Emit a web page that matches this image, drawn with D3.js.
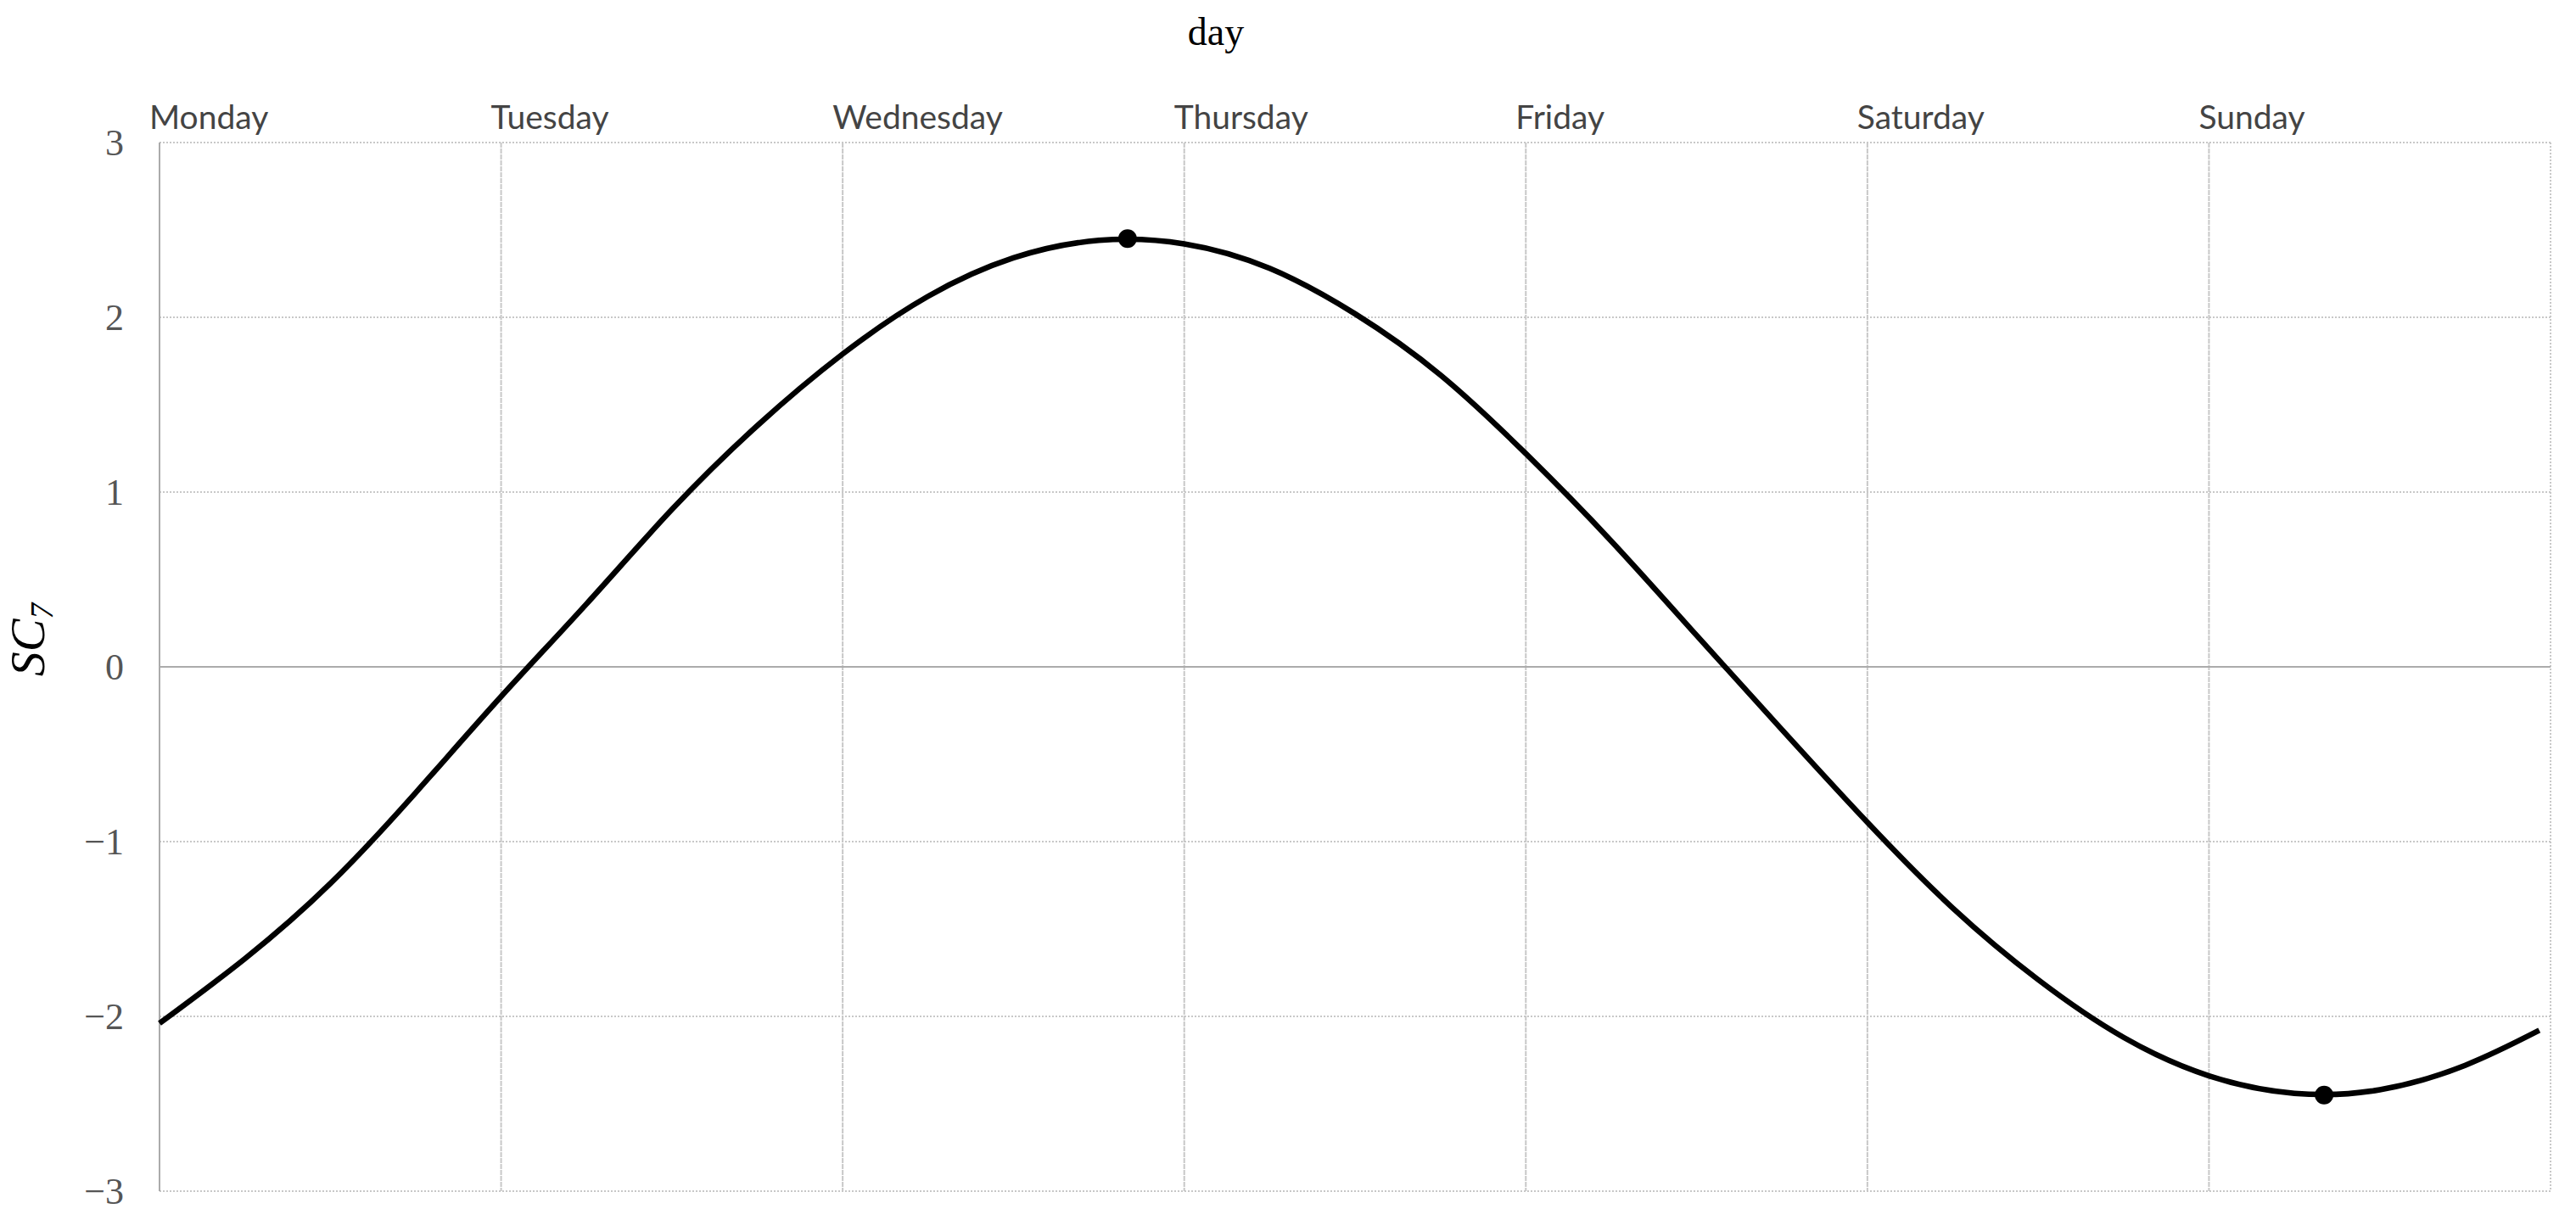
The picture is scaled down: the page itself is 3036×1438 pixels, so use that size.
<!DOCTYPE html>
<html>
<head>
<meta charset="utf-8">
<script src="https://cdn.jsdelivr.net/npm/d3@7"></script>
<style>
  html, body { margin: 0; padding: 0; background: #fff; }
  svg { display: block; }
</style>
</head>
<body>
<svg id="chart" width="3036" height="1438"></svg>
<script>
//
// Data
//

// day names, one per gridline
var days = ['Monday', 'Tuesday', 'Wednesday', 'Thursday', 'Friday', 'Saturday', 'Sunday']
// position along the week (0 = Monday, quarter-day steps) and SC7 value
var curveX = [0, 0.25, 0.5, 0.75, 1, 1.25, 1.5, 1.75, 2, 2.25, 2.5, 2.75, 3, 3.25, 3.5,
  3.75, 4, 4.25, 4.5, 4.75, 5, 5.25, 5.5, 5.75, 6, 6.25, 6.5, 6.75, 6.967]
var curveY = [-2.04, -1.67, -1.24, -0.72, -0.17, 0.36, 0.90, 1.38, 1.79, 2.12, 2.34, 2.44, 2.42, 2.28, 2.02,
  1.67, 1.22, 0.72, 0.18, -0.36, -0.89, -1.38, -1.79, -2.12, -2.34, -2.44, -2.42, -2.28, -2.08]
// marked extremes
var markX = [2.834, 6.337]
var markY = [2.45, -2.45]
// y ticks
var yTicks = [3, 2, 1, 0, -1, -2, -3]

//
// Layout
//

// plot box (note: "top" is taken by window.top, so prefix these)
var plotLeft = 188, plotRight = 3006, plotTop = 168, plotBottom = 1404

var svg = d3.select('#chart')

var x = d3.scaleLinear().domain([0, 7]).range([plotLeft, plotRight])
var y = d3.scaleLinear().domain([-3, 3]).range([plotBottom, plotTop])

var gridColor = '#c8c8c8'
var axisColor = '#ababab'

// horizontal gridlines (dotted)
svg.append('g')
  .selectAll('line')
  .data(yTicks.filter(function (d) { return d !== 0 }))
  .join('line')
  .attr('x1', plotLeft).attr('x2', plotRight)
  .attr('y1', function (d) { return y(d) }).attr('y2', function (d) { return y(d) })
  .attr('stroke', gridColor)
  .attr('stroke-width', 2)
  .attr('stroke-dasharray', '2,2')

// vertical gridlines, one per day + right border
svg.append('g')
  .selectAll('line')
  .data(d3.range(1, 8))
  .join('line')
  .attr('x1', function (d) { return x(d) }).attr('x2', function (d) { return x(d) })
  .attr('y1', plotTop).attr('y2', plotBottom)
  .attr('stroke', gridColor)
  .attr('stroke-width', 2)
  .attr('stroke-dasharray', function (d) { return d === 7 ? '2,2' : '6,1' })

// zero line and left axis
svg.append('line')
  .attr('x1', plotLeft).attr('x2', plotRight)
  .attr('y1', y(0)).attr('y2', y(0))
  .attr('stroke', axisColor).attr('stroke-width', 2)
svg.append('line')
  .attr('x1', plotLeft).attr('x2', plotLeft)
  .attr('y1', plotTop).attr('y2', plotBottom)
  .attr('stroke', axisColor).attr('stroke-width', 2)

// y tick labels
svg.append('g')
  .selectAll('text')
  .data(yTicks)
  .join('text')
  .attr('x', 146)
  .attr('y', function (d) { return y(d) })
  .attr('dy', '0.35em')
  .attr('text-anchor', 'end')
  .attr('font-family', '"Liberation Serif", "Times New Roman", serif')
  .attr('font-size', 44)
  .attr('fill', '#555')
  .text(function (d) { return d < 0 ? '\u2212' + Math.abs(d) : d })

// day labels above the plot
svg.append('g')
  .selectAll('text')
  .data(days)
  .join('text')
  .attr('x', function (d, i) { return x(i) - 12 })
  .attr('y', 152)
  .attr('font-family', 'Lato, "Open Sans", sans-serif')
  .attr('font-size', 39)
  .attr('fill', '#444')
  .text(function (d) { return d })

// title
svg.append('text')
  .attr('x', 1433)
  .attr('y', 53)
  .attr('text-anchor', 'middle')
  .attr('font-family', '"Liberation Serif", "Times New Roman", serif')
  .attr('font-size', 46)
  .attr('fill', '#000')
  .text('day')

// y axis label SC7
var ylab = svg.append('text')
  .attr('transform', 'translate(52,754) rotate(-90)')
  .attr('text-anchor', 'middle')
  .attr('font-family', '"Liberation Serif", "Times New Roman", serif')
  .attr('font-style', 'italic')
  .attr('font-size', 58)
  .attr('fill', '#000')
ylab.append('tspan').text('SC')
ylab.append('tspan').attr('font-size', 38).attr('dy', 10).text('7')

// curve
var points = curveX.map(function (d, i) { return [d, curveY[i]] })
var line = d3.line()
  .x(function (d) { return x(d[0]) })
  .y(function (d) { return y(d[1]) })
  .curve(d3.curveNatural)

svg.append('path')
  .attr('d', line(points))
  .attr('fill', 'none')
  .attr('stroke', '#000')
  .attr('stroke-width', 6.5)

// extreme markers
svg.append('g')
  .selectAll('circle')
  .data(markX)
  .join('circle')
  .attr('cx', function (d) { return x(d) })
  .attr('cy', function (d, i) { return y(markY[i]) })
  .attr('r', 11)
  .attr('fill', '#000')
</script>
</body>
</html>
